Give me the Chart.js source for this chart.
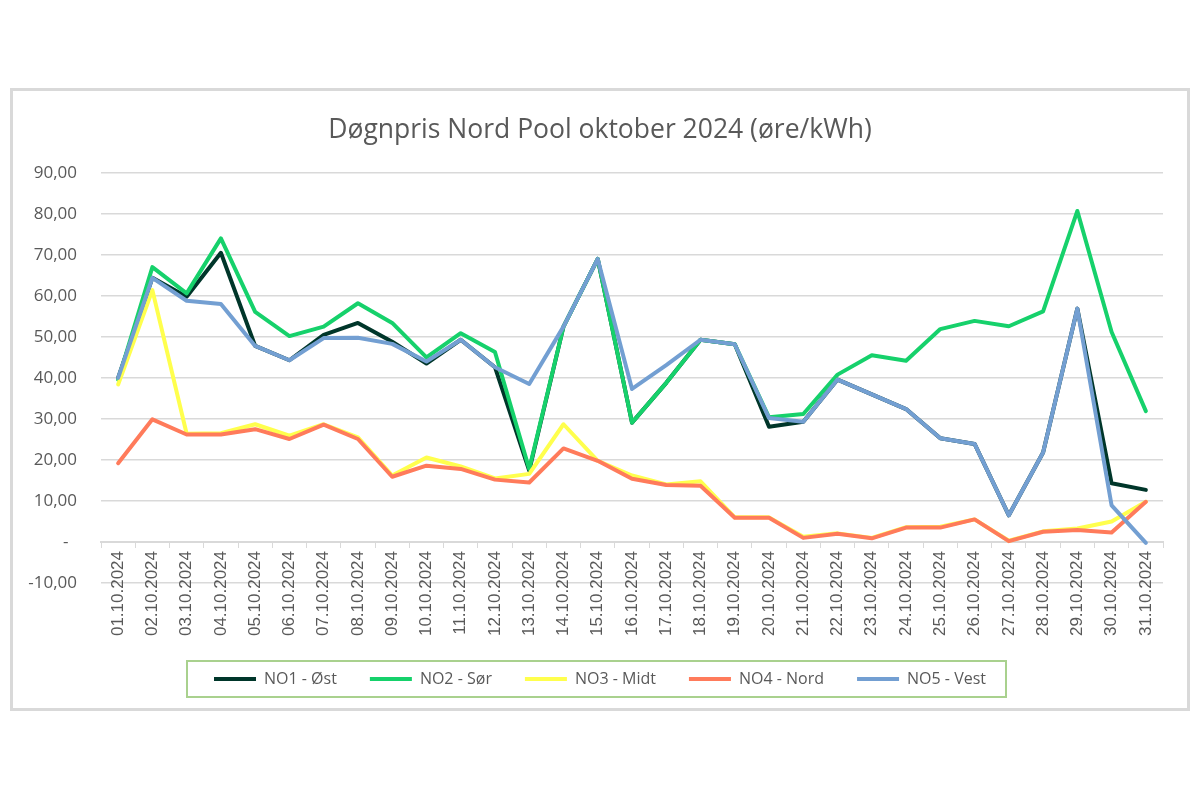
<!DOCTYPE html>
<html>
<head>
<meta charset="utf-8">
<script src="https://cdn.jsdelivr.net/npm/chart.js@4"></script>
<style>
  html, body { margin: 0; padding: 0; background: #ffffff; }
  #wrap { position: relative; width: 1200px; height: 800px; }
  #frame { position: absolute; left: 10px; top: 88px; width: 1180px; height: 623px; box-sizing: border-box; border: 3px solid #D9D9D9; pointer-events: none; }
</style>
</head>
<body>
<div id="wrap">
  <canvas id="c" width="1200" height="800"></canvas>
  <div id="frame"></div>
</div>
<script>
const titleText = 'Døgnpris Nord Pool oktober 2024 (øre/kWh)';
const categories = ['01.10.2024','02.10.2024','03.10.2024','04.10.2024','05.10.2024','06.10.2024','07.10.2024','08.10.2024','09.10.2024','10.10.2024','11.10.2024','12.10.2024','13.10.2024','14.10.2024','15.10.2024','16.10.2024','17.10.2024','18.10.2024','19.10.2024','20.10.2024','21.10.2024','22.10.2024','23.10.2024','24.10.2024','25.10.2024','26.10.2024','27.10.2024','28.10.2024','29.10.2024','30.10.2024','31.10.2024'];
const seriesNames = ['NO1 - Øst','NO2 - Sør','NO3 - Midt','NO4 - Nord','NO5 - Vest'];
const no1 = [40.0,64.4,59.8,70.5,47.8,44.3,50.5,53.4,48.8,43.5,49.3,42.6,17.4,52.5,69.0,29.1,38.8,49.3,48.2,28.1,29.3,39.6,36.0,32.4,25.3,23.9,6.5,21.8,56.9,14.3,12.7];
const no2 = [39.5,67.0,60.6,74.0,56.1,50.2,52.5,58.2,53.4,45.0,50.9,46.3,17.8,52.5,69.0,29.1,38.8,49.3,48.2,30.4,31.2,40.8,45.5,44.2,51.9,53.9,52.6,56.2,80.7,51.2,31.9];
const no3 = [38.4,61.4,26.4,26.5,28.7,25.9,28.7,25.5,16.2,20.6,18.4,15.5,16.6,28.7,19.8,16.2,14.0,14.8,6.0,6.0,1.3,2.1,1.0,3.6,3.7,5.5,0.3,2.6,3.3,5.0,9.8];
const no4 = [19.2,29.9,26.2,26.2,27.5,25.1,28.6,25.1,15.9,18.6,17.8,15.2,14.5,22.8,19.8,15.4,13.9,13.7,5.9,5.9,1.0,2.0,0.9,3.5,3.5,5.5,0.2,2.5,2.9,2.3,9.8];
const no5 = [40.0,64.4,58.8,58.0,47.8,44.3,49.7,49.8,48.3,44.0,49.3,42.6,38.5,52.5,69.0,37.3,43.1,49.3,48.2,30.2,29.3,39.6,36.0,32.4,25.3,23.9,6.5,21.8,56.9,8.9,-0.2];
const yMin = -10, yMax = 90, yStep = 10;

const colors = ['#00362A','#16D16B','#FFFF4D','#FF7B5B','#739FD2'];
const values = [no1, no2, no3, no4, no5];

const textColor = '#595959';
const gridColor = '#D9D9D9';
const uiFont = '"Open Sans", "Noto Sans", sans-serif';

const legendFrame = {
  id: 'legendFrame',
  afterDraw(chart) {
    const lg = chart.legend;
    if (!lg || !lg.legendHitBoxes || !lg.legendHitBoxes.length) return;
    const hb = lg.legendHitBoxes;
    let l = Infinity, r = -Infinity, t = Infinity, b = -Infinity;
    hb.forEach(h => { l = Math.min(l, h.left); r = Math.max(r, h.left + h.width); t = Math.min(t, h.top); b = Math.max(b, h.top + h.height); });
    const cy = (t + b) / 2;
    const ctx = chart.ctx;
    ctx.save();
    ctx.strokeStyle = '#A9D18E';
    ctx.lineWidth = 2;
    ctx.strokeRect(l - 27, cy - 18, (r - l) + 47, 36);
    ctx.restore();
  }
};

new Chart(document.getElementById('c'), {
  type: 'line',
  data: {
    labels: categories,
    datasets: values.map((v, i) => ({
      label: seriesNames[i],
      data: v,
      borderColor: colors[i],
      backgroundColor: colors[i],
      borderWidth: 4,
      pointRadius: 0,
      tension: 0,
      borderCapStyle: 'round',
      borderJoinStyle: 'round',
      order: values.length - 1 - i
    }))
  },
  options: {
    responsive: false,
    devicePixelRatio: 1,
    animation: false,
    layout: { padding: { top: 115, left: 0, right: 0, bottom: 103 } },
    plugins: {
      tooltip: { enabled: false },
      title: {
        display: true,
        text: titleText,
        color: textColor,
        font: { family: uiFont, size: 26.5, weight: 'normal' },
        padding: { top: 0, bottom: 26 }
      },
      legend: {
        position: 'bottom',
        labels: {
          color: textColor,
          font: { family: uiFont, size: 16 },
          usePointStyle: true,
          pointStyle: 'line',
          pointStyleWidth: 42,
          boxHeight: 16,
          padding: 33,
          generateLabels(chart) {
            const items = Chart.defaults.plugins.legend.labels.generateLabels(chart);
            items.sort((a, b) => a.datasetIndex - b.datasetIndex);
            return items;
          }
        }
      }
    },
    scales: {
      x: {
        type: 'category',
        position: { y: 0 },
        offset: true,
        grid: { display: true, drawOnChartArea: false, drawTicks: true, tickLength: 5, color: gridColor, offset: true },
        border: { display: true, color: gridColor, width: 2 },
        ticks: {
          color: textColor,
          font: { family: '"Liberation Sans", Arial, sans-serif', size: 17 },
          maxRotation: 90,
          minRotation: 90,
          autoSkip: false,
          padding: 4
        }
      },
      xspace: {
        type: 'category',
        position: 'bottom',
        display: true,
        grid: { display: false },
        border: { display: false },
        ticks: { display: false },
        afterFit(s) { s.height = 55; }
      },
      yspace: {
        type: 'linear',
        position: 'right',
        display: true,
        grid: { display: false, drawOnChartArea: false },
        border: { display: false },
        ticks: { display: false },
        afterFit(s) { s.width = 37; }
      },
      y: {
        min: yMin,
        max: yMax,
        grid: { color: gridColor, lineWidth: 1.5, drawTicks: false },
        border: { display: false },
        ticks: {
          stepSize: yStep,
          padding: 24,
          color: textColor,
          font: { family: uiFont, size: 17 },
          callback(v) { return v === 0 ? '-\u2002' : v.toFixed(2).replace('.', ','); }
        },
        afterFit(s) { s.width = 101; }
      }
    }
  },
  plugins: [legendFrame]
});
</script>
</body>
</html>
